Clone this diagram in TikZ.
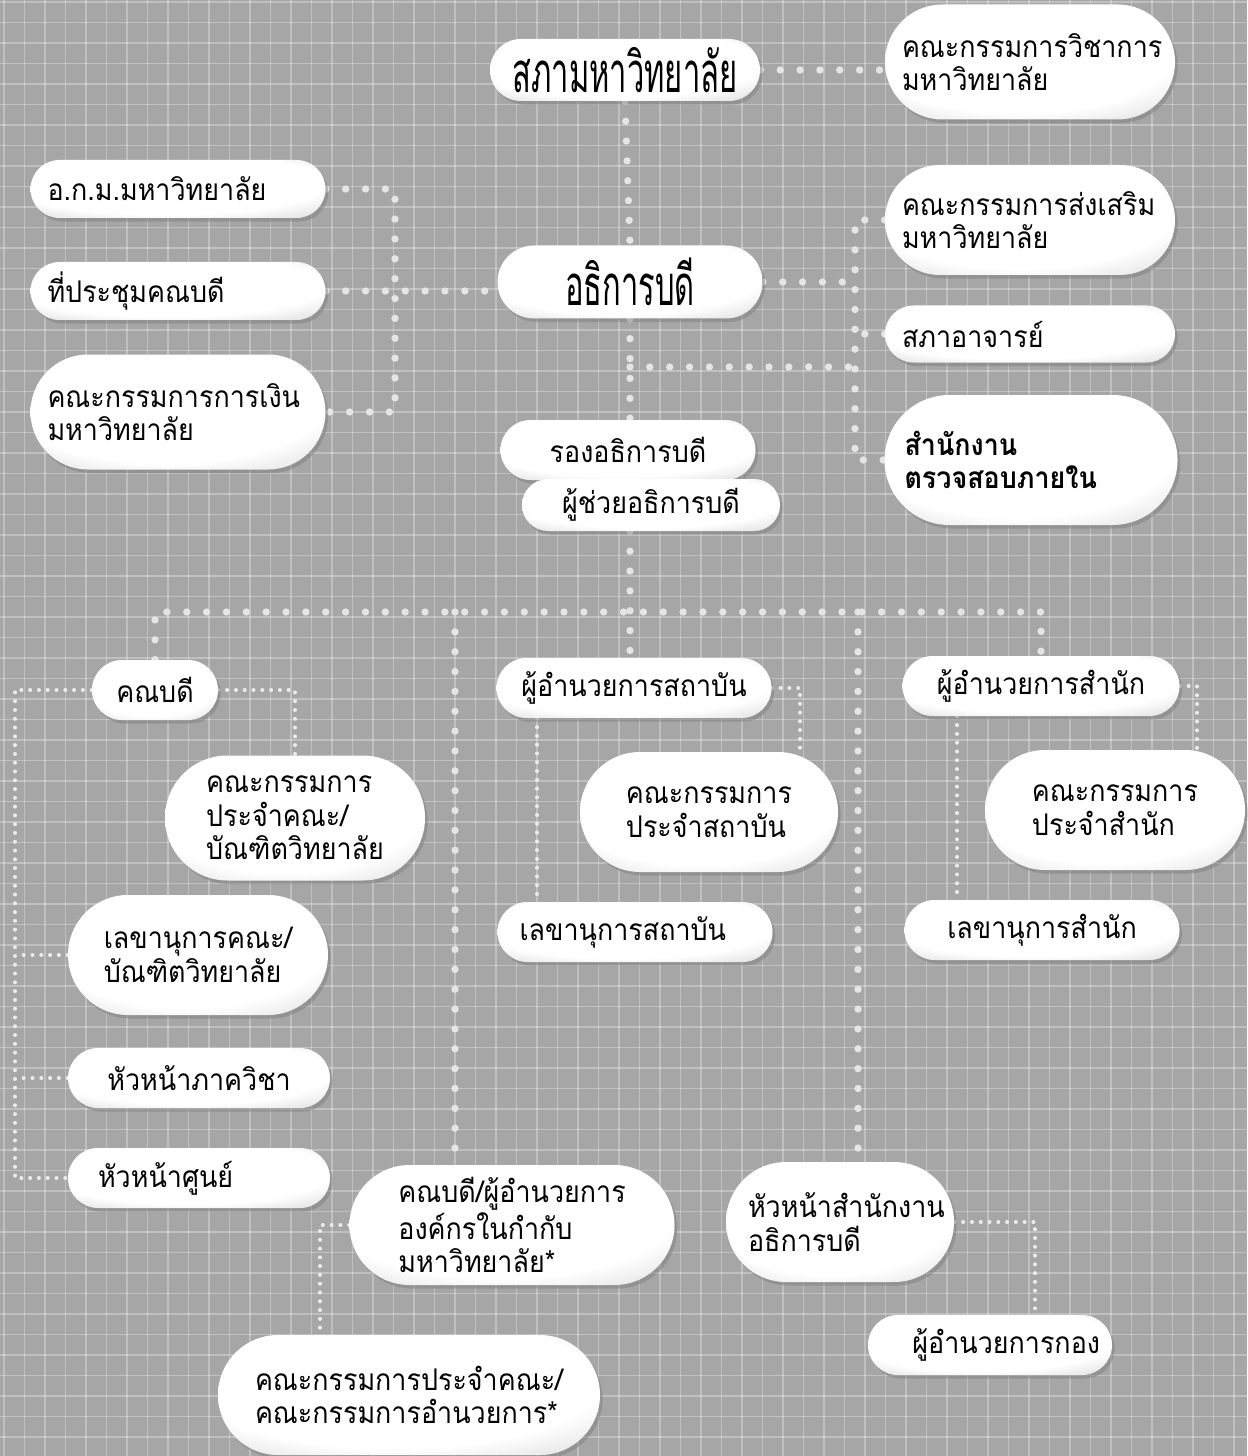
\documentclass[tikz,border=0pt]{standalone}
\usepackage{fontspec}
\newfontfamily\thai[Script=Thai,FakeStretch=0.9]{Loma}
\newfontfamily\thaihead[Script=Thai,FakeStretch=0.55]{Loma}
\usetikzlibrary{shadows}

\pgfdeclarelayer{grid}
\pgfdeclarelayer{lines}
\pgfsetlayers{grid,lines,main}

\pgfdeclareradialshading{pillshade}{\pgfpoint{-4bp}{10bp}}{color(0bp)=(white); color(27bp)=(white); color(42bp)=(black!18); color(52bp)=(black!48)}

\tikzset{
  pill/.style 2 args={shading=pillshade, drop shadow={shadow xshift=1.5pt, shadow yshift=-2pt, opacity=.5},
    minimum width=#1*0.02cm, minimum height=#2*0.02cm, rounded corners=#2*0.01cm,
    inner sep=0pt, align=left, font=\thai\fontsize{17}{19}\selectfont},
  lpill/.style n args={3}{pill={#1}{#2},
    /utils/exec={\pgfmathsetlengthmacro\tw{(#1-2*#3)*0.02cm}}, text width=\tw},
  head/.style={font=\thaihead\fontsize{32}{34}\selectfont},
  bigdots/.style={draw=black!10, line width=4.2pt, line cap=round, dash pattern=on 0pt off 11.3pt},
  smalldots/.style={draw=black!8, line width=2.3pt, line cap=round, dash pattern=on 0pt off 5pt}
}

\begin{document}
\begin{tikzpicture}[x=0.02cm, y=-0.02cm]
  \useasboundingbox (0,0) rectangle (1247,1456);

  % background grid
  \begin{pgfonlayer}{grid}
    \shade[shading=pillshade] (0,0) rectangle (2,2);
    \fill[black!35] (0,0) rectangle (1247,1456);
    \foreach \i in {0,...,61}
      \draw[white, opacity=.3, line width=1pt] (\i*20.5+4,0) -- (\i*20.5+4,1456);
    \foreach \i in {0,...,71}
      \draw[white, opacity=.3, line width=1pt] (0,\i*20.5+2) -- (1247,\i*20.5+2);
  \end{pgfonlayer}

  % top part
  \node[pill={270}{62}, head] (sapha) at (625,70) {สภามหาวิทยาลัย};
  \node[lpill={290}{115}{17}] (wichakan) at (1030,62) {คณะกรรมการวิชาการ\\มหาวิทยาลัย};
  \node[lpill={295}{58}{17}] (okm) at (178,189) {อ.ก.ม.มหาวิทยาลัย};
  \node[lpill={295}{58}{17}] (prachum) at (178,291) {ที่ประชุมคณบดี};
  \node[lpill={295}{115}{17}] (ngoen) at (178,412) {คณะกรรมการการเงิน\\มหาวิทยาลัย};
  \node[pill={265}{73}, head] (athikan) at (630,282) {อธิการบดี};
  \node[lpill={290}{110}{17}] (songsoem) at (1030,220) {คณะกรรมการส่งเสริม\\มหาวิทยาลัย};
  \node[lpill={290}{57}{17}] (saphaajan) at (1030,334) {สภาอาจารย์};
  \node[lpill={293}{130}{20}, font=\thai\bfseries\fontsize{17}{19}\selectfont] (truat) at (1031,460) {สำนักงาน\\ตรวจสอบภายใน};
  \node[pill={255}{60}] (rong) at (628,450) {รองอธิการบดี};
  \node[pill={258}{52}] (phuchuai) at (651,505) {ผู้ช่วยอธิการบดี};

  % faculties
  \node[pill={126}{60}] (khanabodi) at (155,690) {คณบดี};
  \node[pill={260}{125}] (kkkhana) at (295,818) {คณะกรรมการ\\ประจำคณะ/\\บัณฑิตวิทยาลัย};
  \node[pill={260}{120}] (lekhakhana) at (198,955) {เลขานุการคณะ/\\บัณฑิตวิทยาลัย};
  \node[pill={262}{60}] (huaphak) at (199,1078) {หัวหน้าภาควิชา};
  \node[lpill={262}{60}{30}] (huasun) at (199,1178) {หัวหน้าศูนย์};

  % institutes
  \node[pill={275}{60}] (sathaban) at (634,688) {ผู้อำนวยการสถาบัน};
  \node[pill={258}{120}] (kksathaban) at (709,812) {คณะกรรมการ\\ประจำสถาบัน};
  \node[lpill={275}{60}{22}] (lekhasathaban) at (635,932) {เลขานุการสถาบัน};

  % offices
  \node[pill={277}{60}] (samnak) at (1041,686) {ผู้อำนวยการสำนัก};
  \node[pill={260}{120}] (kksamnak) at (1115,810) {คณะกรรมการ\\ประจำสำนัก};
  \node[pill={275}{60}] (lekhasamnak) at (1042,930) {เลขานุการสำนัก};

  % bottom
  \node[pill={325}{120}] (ongkon) at (512,1225) {คณบดี/ผู้อำนวยการ\\องค์กรในกำกับ\\มหาวิทยาลัย*};
  \node[pill={382}{120}] (kkongkon) at (409,1395) {คณะกรรมการประจำคณะ/\\คณะกรรมการอำนวยการ*};
  \node[lpill={228}{120}{22}] (huasamnakngan) at (840,1222) {หัวหน้าสำนักงาน\\อธิการบดี};
  \node[pill={244}{60}, text width=4.4cm, align=right] (kong) at (990,1345) {ผู้อำนวยการกอง};

  \coordinate (lbus) at (395,0);
  \coordinate (rbus) at (855,0);
  \coordinate (tj) at (630,367);
  \coordinate (hbar) at (0,612);
  \coordinate (vkhana) at (455,0);
  \coordinate (vsng) at (858,0);
  \coordinate (kleft) at (15,0);
  \coordinate (sbend) at (800,0);
  \coordinate (sleft) at (537,0);
  \coordinate (nbend) at (1197,0);
  \coordinate (nleft) at (957,0);
  \coordinate (obend) at (320,0);
  \coordinate (hbend) at (1035,0);

  \begin{pgfonlayer}{lines}
    \draw[bigdots] (sapha.south) -- (athikan.north);
    \draw[bigdots] (sapha.east) -- (sapha.east -| wichakan.west);
    \draw[bigdots] (okm.east) -| (lbus |- ngoen.east) -- (ngoen.east);
    \draw[bigdots] (prachum.east) -- (prachum.east -| athikan.west);
    \draw[bigdots] (songsoem.west) -| (rbus |- truat.west) -- (truat.west);
    \draw[bigdots] (athikan.east) -- (athikan.east -| rbus);
    \draw[bigdots] (saphaajan.west) -- (saphaajan.west -| rbus);
    \draw[bigdots] (athikan.south) -- (rong.north -| athikan.south);
    \draw[bigdots] (tj) -- (tj -| rbus);
    \draw[bigdots] (phuchuai.south -| athikan.south) -- (sathaban.north -| athikan.south);
    \draw[bigdots] (khanabodi.north) |- (samnak.north |- hbar) -- (samnak.north);
    \draw[bigdots] (vkhana |- hbar) -- (vkhana |- ongkon.north);
    \draw[bigdots] (vsng |- hbar) -- (vsng |- huasamnakngan.north);

    \draw[smalldots] (khanabodi.west) -| (kleft |- huasun.west) -- (huasun.west);
    \draw[smalldots] (khanabodi.east) -| (kkkhana.north);
    \draw[smalldots] (lekhakhana.west) -- (lekhakhana.west -| kleft);
    \draw[smalldots] (huaphak.west) -- (huaphak.west -| kleft);
    \draw[smalldots] (sathaban.east) -| (sbend |- kksathaban.north);
    \draw[smalldots] (sleft |- sathaban.south) -- (sleft |- lekhasathaban.north);
    \draw[smalldots] (samnak.east) -| (nbend |- kksamnak.north);
    \draw[smalldots] (nleft |- samnak.south) -- (nleft |- lekhasamnak.north);
    \draw[smalldots] (ongkon.west) -| (obend |- kkongkon.north);
    \draw[smalldots] (huasamnakngan.east) -| (hbend |- kong.north);
  \end{pgfonlayer}
\end{tikzpicture}
\end{document}
